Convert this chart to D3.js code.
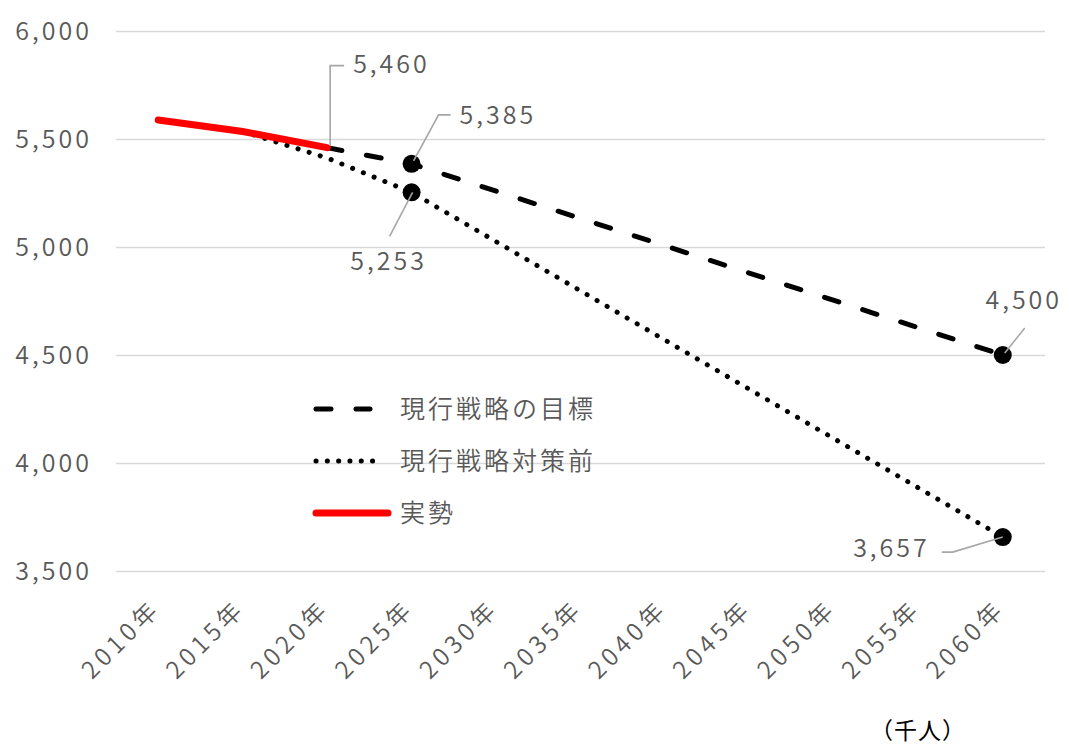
<!DOCTYPE html>
<html>
<head>
<meta charset="utf-8">
<script src="https://cdn.jsdelivr.net/npm/d3@7"></script>
<style>
  html, body { margin: 0; padding: 0; background: #fff; }
  svg text { font-family: "Noto Sans CJK JP", "Noto Sans", sans-serif; }
</style>
</head>
<body>
<svg id="chart" width="1069" height="746"></svg>
<script>
// ---- data ----
const years = ["2010年","2015年","2020年","2025年","2030年","2035年","2040年","2045年","2050年","2055年","2060年"];
const yTicks = [3500, 4000, 4500, 5000, 5500, 6000];

const actualYears = ["2010年","2015年","2020年"];
const actualValues = [5588, 5535, 5460];

const targetYears = ["2020年","2025年","2060年"];
const targetValues = [5460, 5385, 4500];

const beforeYears = ["2015年","2020年","2025年","2060年"];
const beforeValues = [5535, 5412, 5253, 3657];

const markerYears = ["2025年","2060年","2025年","2060年"];
const markerValues = [5385, 4500, 5253, 3657];

const labelYears = ["2020年","2025年","2025年","2060年","2060年"];
const labelValues = [5460, 5385, 5253, 4500, 3657];

const legendNames = ["現行戦略の目標", "現行戦略対策前", "実勢"];
const unitLabel = "（千人）";

// ---- layout ----
const svg = d3.select("#chart");
const plotL = 116, plotR = 1045, plotT = 31, plotB = 571;
const x = d3.scalePoint().domain(years).range([plotL, plotR]).padding(0.5);
const y = d3.scaleLinear().domain([3500, 6000]).range([plotB, plotT]);
const textColor = "#595959";
const fw = 350;
const fmt = d3.format(",");

// gridlines + y labels
const yAxis = svg.append("g")
  .attr("transform", `translate(${plotL},0)`)
  .call(d3.axisLeft(y).tickValues(yTicks).tickSize(-(plotR - plotL)).tickPadding(24).tickFormat(fmt));
yAxis.select(".domain").remove();
yAxis.attr("font-family", null).attr("font-size", null);
yAxis.selectAll(".tick line").attr("stroke", "#d9d9d9").attr("stroke-width", 1.6);
yAxis.selectAll(".tick text")
  .attr("fill", textColor).attr("font-size", 25).attr("font-weight", fw)
  .style("letter-spacing", "3px").attr("dy", "0.35em");

// x labels
svg.append("g").selectAll("text").data(years).join("text")
  .attr("transform", d => `translate(${x(d) + 4},${610}) rotate(-45)`)
  .attr("text-anchor", "end")
  .attr("fill", textColor).attr("font-size", 24).attr("font-weight", fw)
  .style("letter-spacing", "4.5px")
  .text(d => d);

// lines
const line = d3.line().x(d => x(d[0])).y(d => y(d[1]));

svg.append("path")
  .attr("d", line(beforeYears.map((c, i) => [c, beforeValues[i]])))
  .attr("fill", "none").attr("stroke", "#000").attr("stroke-width", 5)
  .attr("stroke-linecap", "round").attr("stroke-dasharray", "0.1,11.5");

svg.append("path")
  .attr("d", line(targetYears.map((c, i) => [c, targetValues[i]])))
  .attr("fill", "none").attr("stroke", "#000").attr("stroke-width", 5)
  .attr("stroke-linecap", "round").attr("stroke-dasharray", "15,25");

svg.append("path")
  .attr("d", line(actualYears.map((c, i) => [c, actualValues[i]])))
  .attr("fill", "none").attr("stroke", "#ff0000").attr("stroke-width", 7)
  .attr("stroke-linecap", "round");

// markers
svg.append("g").selectAll("circle").data(markerYears.map((c, i) => [c, markerValues[i]])).join("circle")
  .attr("cx", d => x(d[0])).attr("cy", d => y(d[1])).attr("r", 9).attr("fill", "#000");

// leader lines + labels
const labelLayout = [
  { pts: [[3, -2], [3, -82], [17, -82]], tx: 26, ty: -83, anchor: "start" },
  { pts: [[2, -3], [27, -49], [39, -49]], tx: 48, ty: -49, anchor: "start" },
  { pts: [[1, 0], [-22, 44]], tx: -23, ty: 69, anchor: "middle" },
  { pts: [[2, -2], [22, -27]], tx: 21, ty: -55, anchor: "middle" },
  { pts: [[0, 0], [-50, 15], [-61, 15]], tx: -73, ty: 11, anchor: "end" }
];
labelYears.forEach((c, i) => {
  const px = x(c), py = y(labelValues[i]);
  const L = labelLayout[i];
  svg.append("polyline")
    .attr("points", L.pts.map(p => [px + p[0], py + p[1]].join(",")).join(" "))
    .attr("fill", "none").attr("stroke", "#a6a6a6").attr("stroke-width", 1.6);
  svg.append("text")
    .attr("x", px + L.tx).attr("y", py + L.ty).attr("dy", "0.35em")
    .attr("text-anchor", L.anchor)
    .attr("fill", textColor).attr("font-size", 25).attr("font-weight", fw)
    .style("letter-spacing", "3px")
    .text(fmt(labelValues[i]));
});

// legend
const legendY = [409, 461, 513];
const legendStyles = [
  { stroke: "#000", w: 5, dash: "15,25", x2: 370 },
  { stroke: "#000", w: 5, dash: "0.1,11.2", x2: 380 },
  { stroke: "#ff0000", w: 7, dash: null, x2: 388 }
];
legendNames.forEach((n, i) => {
  const s = legendStyles[i];
  svg.append("line")
    .attr("x1", 316).attr("x2", s.x2).attr("y1", legendY[i]).attr("y2", legendY[i])
    .attr("stroke", s.stroke).attr("stroke-width", s.w).attr("stroke-linecap", "round")
    .attr("stroke-dasharray", s.dash);
  svg.append("text")
    .attr("x", 400).attr("y", legendY[i]).attr("dy", "0.36em")
    .attr("fill", textColor).attr("font-size", 25).attr("font-weight", fw)
    .style("letter-spacing", "3px")
    .text(n);
});

// unit
svg.append("text")
  .attr("x", 918).attr("y", 731).attr("dy", "0.36em").attr("text-anchor", "middle")
  .attr("fill", "#000").attr("font-size", 23).style("letter-spacing", "1px")
  .text(unitLabel);
</script>
</body>
</html>
